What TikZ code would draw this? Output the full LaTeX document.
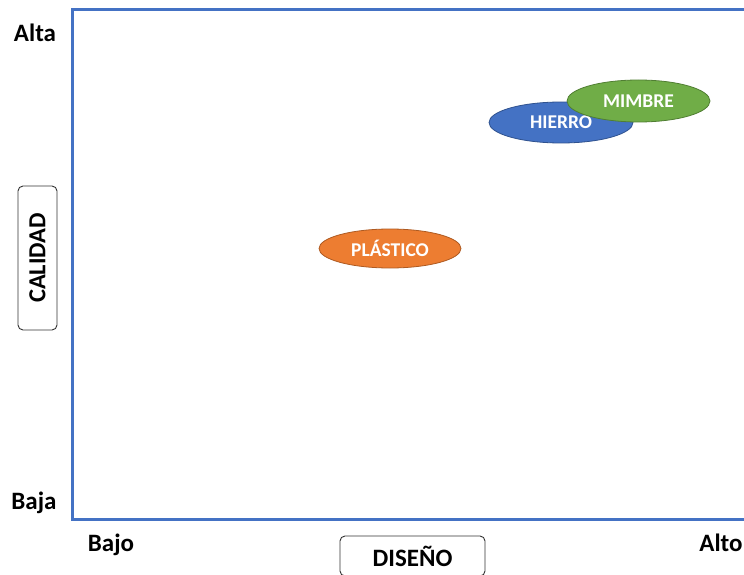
\documentclass[tikz,border=0pt]{standalone}
\usepackage{fontspec}
\setmainfont{Carlito}
\usetikzlibrary{shapes.geometric}
\definecolor{axisblue}{HTML}{4472C4}
\definecolor{orng}{HTML}{ED7D31}
\definecolor{orngdk}{HTML}{AE5A21}
\definecolor{blu}{HTML}{4472C4}
\definecolor{bludk}{HTML}{2F528F}
\definecolor{grn}{HTML}{70AD47}
\definecolor{grndk}{HTML}{507E32}
\begin{document}
\begin{tikzpicture}[x=1pt,y=-1pt,
  lbl/.style={font=\fontsize{25}{29}\selectfont\bfseries, text=black, inner sep=0pt},
  axbox/.style={draw=black!80, line width=0.9pt, rounded corners=5pt, fill=white, font=\fontsize{25}{29}\selectfont\bfseries},
  item/.style={ellipse, line width=0.8pt, text=white, font=\fontsize{19.5}{23}\selectfont\bfseries, inner sep=0pt}]
\useasboundingbox (0,0) rectangle (744,575);
\fill[white] (0,0) rectangle (744,575);
% axes frame
\coordinate (tl) at (72,10);
\coordinate (tr) at (746,10);
\coordinate (bl) at (72,519);
\coordinate (br) at (746,519);
\draw[axisblue, line width=3pt] (tr) -- (tl) -- (bl) -- (br);
% tick labels
\node[lbl] (alta) at (35,33) {Alta};
\node[lbl] (baja) at (34,503) {Baja};
\node[lbl] (bajo) at (111,545) {Bajo};
\node[lbl] (alto) at (721,543) {Alto};
% axis titles
\node[axbox, minimum width=39pt, minimum height=144pt] (cal) at (37.5,258) {};
\node[font=\fontsize{24.5}{28}\selectfont\bfseries, rotate=90] (calt) at (cal.center) {CALIDAD};
\node[axbox, minimum width=145pt, minimum height=40pt] (dis) at (412.5,556) {DISEÑO};
% items
\node[item, fill=orng, draw=orngdk, minimum width=142pt, minimum height=39pt] (pla) at (390,248.5) {PLÁSTICO};
\node[item, fill=blu, draw=bludk, minimum width=144pt, minimum height=41pt] (hie) at (561,122.5) {HIERRO};
\node[item, fill=grn, draw=grndk, minimum width=143pt, minimum height=42pt] (mim) at (638.5,101) {MIMBRE};
\end{tikzpicture}
\end{document}
